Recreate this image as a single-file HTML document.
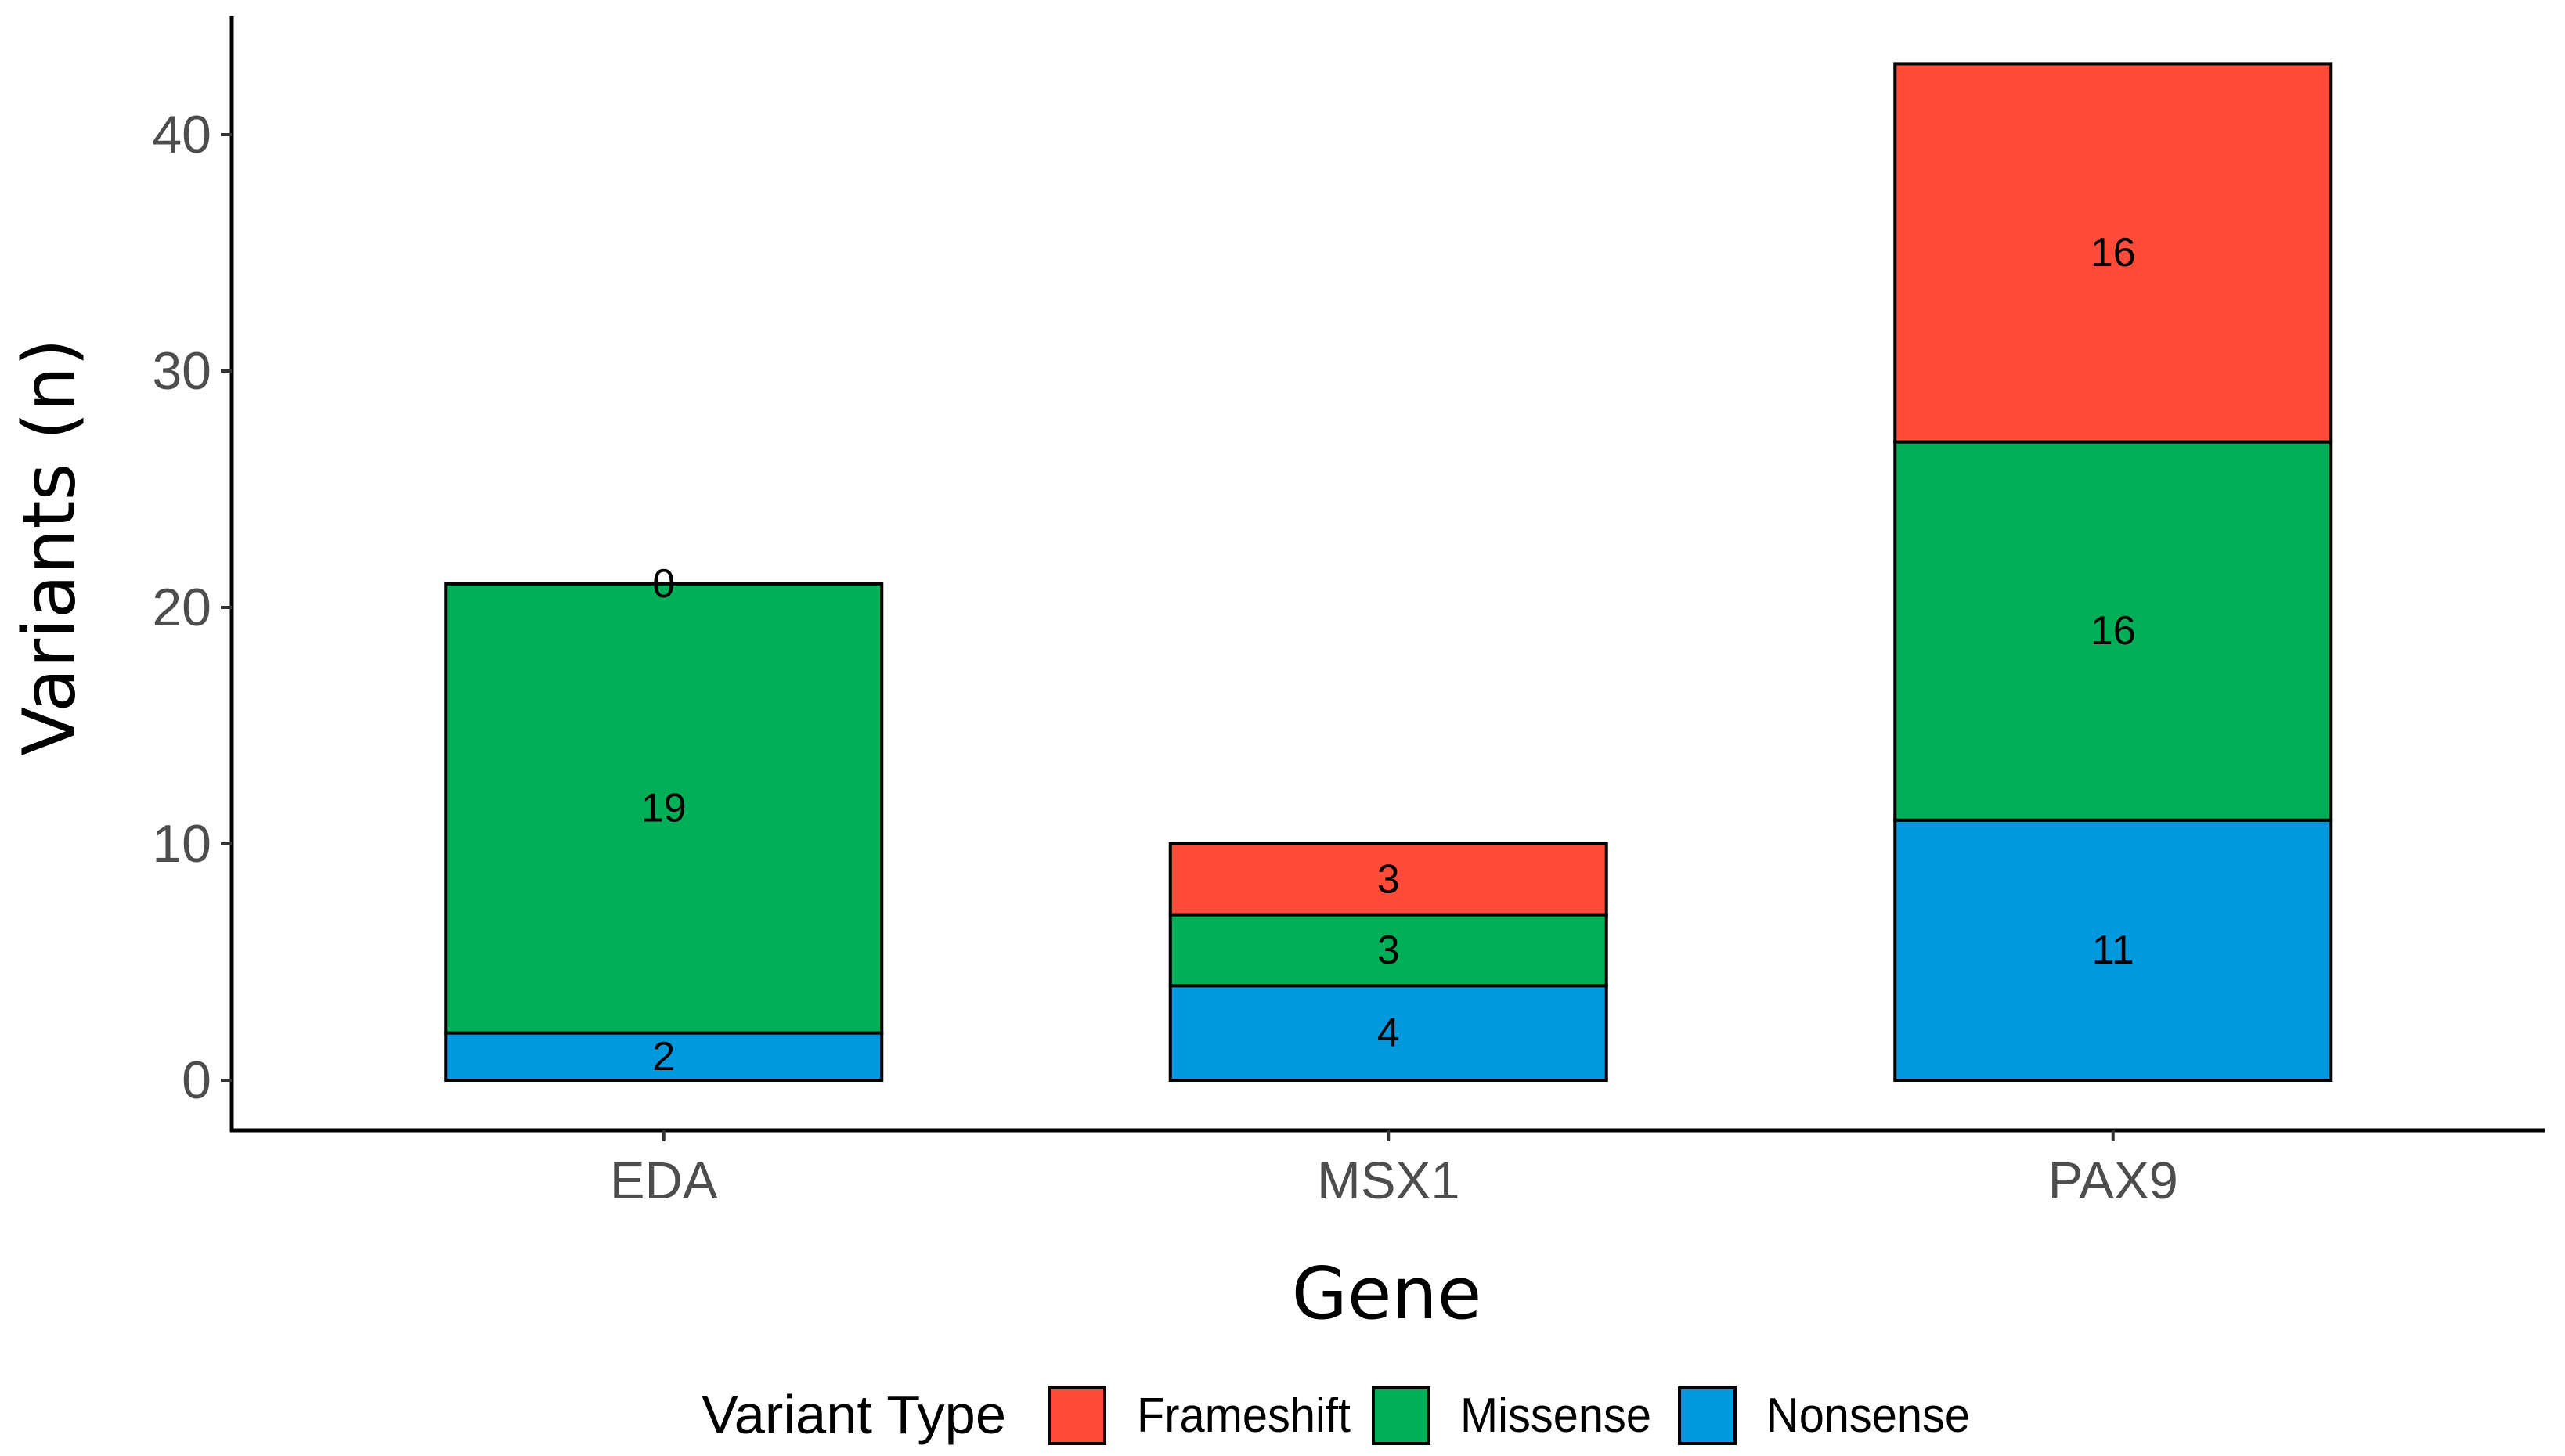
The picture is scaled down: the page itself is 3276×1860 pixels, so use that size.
<!DOCTYPE html>
<html><head><meta charset="utf-8"><style>
html,body{margin:0;padding:0;background:#fff}
svg{display:block}
</style></head><body>
<svg id="chart" width="3276" height="1860" viewBox="0 0 3276 1860" xmlns="http://www.w3.org/2000/svg">
<g id="plot"></g>
<text x="63" y="699" transform="rotate(-90 63 699)" text-anchor="middle" dominant-baseline="central" font-family="DejaVu Sans, sans-serif" font-size="92" fill="#000">Variants (n)</text>
<text x="1771" y="1684" text-anchor="middle" font-family="DejaVu Sans, sans-serif" font-size="92" fill="#000">Gene</text>
<g id="legend">
<text x="896" y="1831" font-family="Liberation Sans, sans-serif" font-size="70" textLength="389" lengthAdjust="spacingAndGlyphs" fill="#000">Variant Type</text>
</g>
</svg>
<script>
const categories = ["EDA", "MSX1", "PAX9"];
const seriesNames = ["Nonsense", "Missense", "Frameshift"];
const nonsense = [2, 4, 11];
const missense = [19, 3, 16];
const frameshift = [0, 3, 16];
const yTicks = [0, 10, 20, 30, 40];

const NS = "http://www.w3.org/2000/svg";
const colors = {Nonsense:"#0099DD", Missense:"#00AF57", Frameshift:"#FF4B3A"};
const series = {Nonsense:nonsense, Missense:missense, Frameshift:frameshift};
const x0 = 296, x1 = 3251, yAxisBottom = 1444, yAxisTop = 21;
const yZero = 1380, yPerUnit = 30.2;
function yScale(v){ return yZero - v * yPerUnit; }
const bandStart = 385, bandStep = 925.5;
function xCenter(i){ return bandStart + bandStep * (i + 0.5); }
const barW = 557;
const plot = document.getElementById('plot');
function mk(tag, attrs){ const e = document.createElementNS(NS, tag); for (const k in attrs) e.setAttribute(k, attrs[k]); return e; }

categories.forEach((c, i) => {
  let base = 0;
  seriesNames.forEach(s => {
    const v = series[s][i];
    const r = mk('rect', {x: xCenter(i) - barW/2, y: yScale(base + v), width: barW, height: Math.max(0, yScale(base) - yScale(base + v)), fill: colors[s], stroke: '#000', 'stroke-width': 4});
    
    
    plot.appendChild(r);
    base += v;
  });
});
categories.forEach((c, i) => {
  let base = 0;
  seriesNames.forEach(s => {
    const v = series[s][i];
    const t = mk('text', {x: xCenter(i), y: yScale(base + v/2), 'text-anchor': 'middle', 'dominant-baseline': 'central', 'font-family': 'Liberation Sans, sans-serif', 'font-size': 52, fill: '#000'});
    t.textContent = v;
    
    
    plot.appendChild(t);
    base += v;
  });
});
const ya = mk('line', {x1: x0, y1: yAxisTop, x2: x0, y2: yAxisBottom + 2, stroke: '#000', 'stroke-width': 5});


plot.appendChild(ya);
const xa = mk('line', {x1: x0 - 2, y1: yAxisBottom, x2: x1, y2: yAxisBottom, stroke: '#000', 'stroke-width': 5});


plot.appendChild(xa);
yTicks.forEach(v => {
  const y = yScale(v);
  const tk = mk('line', {x1: x0 - 14, y1: y, x2: x0, y2: y, stroke: '#333', 'stroke-width': 4});
  
  
  plot.appendChild(tk);
  const t = mk('text', {x: 270, y: y, 'text-anchor': 'end', 'dominant-baseline': 'central', 'font-family': 'Liberation Sans, sans-serif', 'font-size': 68, fill: '#4d4d4d'});
  t.textContent = v;
  
  
  plot.appendChild(t);
});
categories.forEach((c, i) => {
  const x = xCenter(i);
  const tk = mk('line', {x1: x, y1: yAxisBottom, x2: x, y2: yAxisBottom + 14, stroke: '#333', 'stroke-width': 4});
  
  
  plot.appendChild(tk);
  const t = mk('text', {x: x, y: 1531, 'text-anchor': 'middle', 'font-family': 'Liberation Sans, sans-serif', 'font-size': 67, fill: '#4d4d4d'});
  t.textContent = c;
  
  
  plot.appendChild(t);
});
const legend = document.getElementById('legend');
const legendItems = [
  {name:"Frameshift", kx:1340, tx:1452, tw:273},
  {name:"Missense", kx:1754, tx:1865, tw:244},
  {name:"Nonsense", kx:2145, tx:2256, tw:260}
];
legendItems.forEach(it => {
  const r = mk('rect', {x: it.kx, y: 1773, width: 71, height: 71, fill: colors[it.name], stroke: '#000', 'stroke-width': 4});
  
  
  legend.appendChild(r);
  const t = mk('text', {x: it.tx, y: 1829, 'font-family': 'Liberation Sans, sans-serif', 'font-size': 62, textLength: it.tw, lengthAdjust: 'spacingAndGlyphs', fill: '#000'});
  t.textContent = it.name;
  
  
  legend.appendChild(t);
});
</script>
</body></html>
